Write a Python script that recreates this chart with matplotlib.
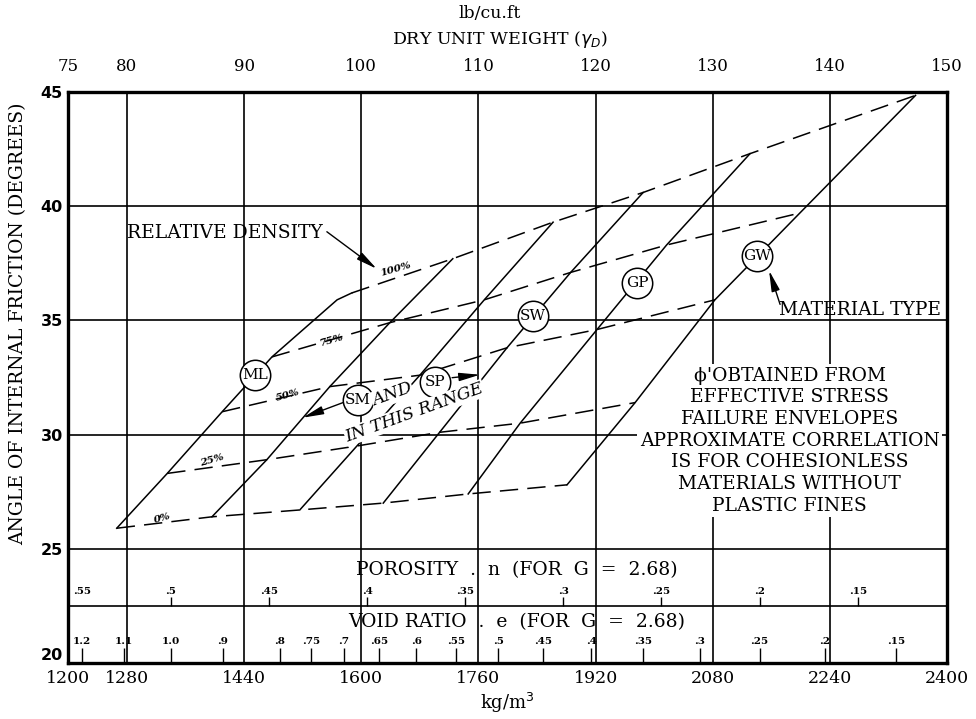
import matplotlib.pyplot as plt

KG_PER_PCF = 16.0

materials = ['ML', 'SM', 'SP', 'SW', 'GP', 'GW']
dr_labels = ['0%', '25%', '50%', '75%', '100%']

# dry density (kg/m3) and friction angle (deg), one value per material, for each relative density
dens_dr0 = [1266, 1396, 1516, 1630, 1746, 1881]
phi_dr0 = [25.9, 26.4, 26.7, 27.0, 27.4, 27.8]
dens_dr25 = [1335, 1471, 1594, 1707, 1817, 1974]
phi_dr25 = [28.3, 28.9, 29.5, 30.1, 30.5, 31.4]
dens_dr50 = [1410, 1557, 1680, 1799, 1922, 2083]
phi_dr50 = [31.0, 32.1, 32.6, 33.8, 34.6, 35.9]
dens_dr75 = [1478, 1639, 1768, 1886, 2017, 2199]
phi_dr75 = [33.4, 34.9, 35.9, 37.1, 38.3, 39.7]
dens_dr100 = [1587, 1725, 1862, 1985, 2131, 2357]
phi_dr100 = [36.2, 37.7, 39.3, 40.6, 42.3, 44.85]

# ML line bends just below its 100% point
ml_bend_dens = 1567
ml_bend_phi = 35.9

# material type circles
circle_dens = [1455, 1595, 1701, 1834, 1977, 2140]
circle_phi = [32.6, 31.5, 32.3, 35.2, 36.65, 37.8]

# relative density labels on the dashed lines
dr_label_dens = [1329, 1396, 1500, 1560, 1647]
dr_label_phi = [26.33, 28.87, 31.73, 34.12, 37.22]

kg_ticks = [1200, 1280, 1440, 1600, 1760, 1920, 2080, 2240, 2400]
kg_grid = [1280, 1440, 1600, 1760, 1920, 2080, 2240]
pcf_ticks = [75, 80, 90, 100, 110, 120, 130, 140, 150]
phi_ticks = [20, 25, 30, 35, 40, 45]
phi_grid = [22.5, 25, 30, 35, 40]

porosity_labels = ['.55', '.5', '.45', '.4', '.35', '.3', '.25', '.2', '.15']
porosity_dens = [1206, 1340, 1474, 1608, 1742, 1876, 2010, 2144, 2278]
void_labels = ['1.2', '1.1', '1.0', '.9', '.8', '.75', '.7', '.65', '.6', '.55',
               '.5', '.45', '.4', '.35', '.3', '.25', '.2', '.15']
void_dens = [1218, 1276, 1340, 1411, 1489, 1531, 1576, 1624, 1675, 1729,
             1787, 1848, 1914, 1985, 2062, 2144, 2233, 2330]

note_lines = ["ϕ'OBTAINED FROM", 'EFFECTIVE STRESS', 'FAILURE ENVELOPES',
              'APPROXIMATE CORRELATION', 'IS FOR COHESIONLESS',
              'MATERIALS WITHOUT', 'PLASTIC FINES']

SERIF = 'DejaVu Serif'

fig = plt.figure(figsize=(9.76, 7.19), dpi=100)
ax = fig.add_axes([0.0701, 0.0779, 0.9002, 0.7942])
ax.set_xlim(1200, 2400)
ax.set_ylim(20, 45)

# grid
ax.vlines(kg_grid, 20, 45, color='black', lw=1.2, zorder=1)
ax.hlines(phi_grid, 1200, 2400, color='black', lw=1.2, zorder=1)
for s in ax.spines.values():
    s.set_linewidth(2.4)

dens = [dens_dr0, dens_dr25, dens_dr50, dens_dr75, dens_dr100]
phi = [phi_dr0, phi_dr25, phi_dr50, phi_dr75, phi_dr100]

# material lines (solid)
for i, m in enumerate(materials):
    xs = [d[i] for d in dens]
    ys = [p[i] for p in phi]
    if m == 'ML':
        xs.insert(4, ml_bend_dens)
        ys.insert(4, ml_bend_phi)
    ax.plot(xs, ys, color='black', lw=1.1, zorder=3)

# relative density lines (dashed)
for k in range(len(dr_labels)):
    ax.plot(dens[k], phi[k], color='black', lw=1.1, dashes=(12, 6), zorder=3)

for x, y, t in zip(dr_label_dens, dr_label_phi, dr_labels):
    ax.text(x, y, t, fontsize=7.5, family=SERIF, style='italic', weight='bold',
            rotation=16, ha='center', va='center', zorder=6)

# circles with material names
ax.scatter(circle_dens, circle_phi, s=480, facecolor='white', edgecolor='black',
           lw=1.1, zorder=5)
for x, y, m in zip(circle_dens, circle_phi, materials):
    ax.text(x, y, m, fontsize=11, family=SERIF, ha='center', va='center', zorder=6)

arrow = dict(arrowstyle='-|>,head_length=0.9,head_width=0.18', color='black',
             lw=1.0, mutation_scale=14, shrinkA=0, shrinkB=0)
ax.annotate('', xy=(1520, 30.74), xytext=(1575, 31.4), arrowprops=arrow, zorder=6)
ax.annotate('', xy=(1762, 32.62), xytext=(1724, 32.49), arrowprops=arrow, zorder=6)
ax.annotate('', xy=(1621, 37.26), xytext=(1553, 38.88), arrowprops=arrow, zorder=6)
ax.annotate('', xy=(2157, 37.18), xytext=(2172, 35.7), arrowprops=arrow, zorder=6)

# "SM AND SP IN THIS RANGE"
for txt, x, y in [('AND', 1642, 31.75), ('IN THIS RANGE', 1673, 30.96)]:
    ax.text(x, y, txt, fontsize=12.5, family=SERIF, style='italic', rotation=20,
            ha='center', va='center', zorder=6,
            bbox=dict(boxstyle='square,pad=0.05', fc='white', ec='none'))

ax.text(1280, 38.84, 'RELATIVE DENSITY', fontsize=13.5, family=SERIF,
        ha='left', va='center', zorder=6)
ax.text(2170, 35.45, 'MATERIAL TYPE', fontsize=13.5, family=SERIF,
        ha='left', va='center', zorder=6)

# note block, white boxes first so no box covers a neighbouring line
for j, line in enumerate(note_lines):
    y = 32.58 - 0.948 * j
    ax.text(2185, y, line, fontsize=13.5, family=SERIF, ha='center', va='center',
            color='white', zorder=5,
            bbox=dict(boxstyle='square,pad=0.12', fc='white', ec='none'))
for j, line in enumerate(note_lines):
    y = 32.58 - 0.948 * j
    ax.text(2185, y, line, fontsize=13.5, family=SERIF, ha='center', va='center',
            zorder=6)

# porosity and void ratio scales
ax.text(1812, 24.07, 'POROSITY  .  n  (FOR  G  =  2.68)', fontsize=13.5,
        family=SERIF, ha='center', va='center', zorder=6)
ax.text(1812, 21.8, 'VOID RATIO  .  e  (FOR  G  =  2.68)', fontsize=13.5,
        family=SERIF, ha='center', va='center', zorder=6)
ax.vlines(porosity_dens[1:], 22.5, 22.89, color='black', lw=1.0, zorder=2)
for i, (x, t) in enumerate(zip(porosity_dens, porosity_labels)):
    ax.text(x, 23.11, t, fontsize=7.5, family=SERIF, weight='bold',
            ha='left' if i == 0 else 'center', va='center', zorder=6)
ax.vlines(void_dens, 20, 20.66, color='black', lw=1.0, zorder=2)
for x, t in zip(void_dens, void_labels):
    ax.text(x, 20.96, t, fontsize=7.5, family=SERIF, weight='bold',
            ha='center', va='center', zorder=6)

# axes ticks
ax.set_xticks(kg_ticks)
ax.set_xticklabels([str(v) for v in kg_ticks], family=SERIF, fontsize=12.5)
ax.set_yticks(phi_ticks)
ax.set_yticklabels([str(v) for v in phi_ticks], family='DejaVu Sans',
                   weight='bold', fontsize=11.5)
ax.get_yticklabels()[0].set_va('bottom')
ax.tick_params(axis='x', length=0, pad=5)
ax.tick_params(axis='y', length=0, pad=4)

secax = ax.secondary_xaxis('top', functions=(lambda k: k / KG_PER_PCF,
                                             lambda p: p * KG_PER_PCF))
secax.set_xticks(pcf_ticks)
secax.set_xticklabels([str(v) for v in pcf_ticks], family=SERIF, fontsize=12)
secax.tick_params(length=0, pad=12)
secax.spines['top'].set_visible(False)

# titles and axis labels
fig.text(490 / 976, 1 - 13 / 719, 'lb/cu.ft', family=SERIF, fontsize=12.5,
         ha='center', va='center')
fig.text(500 / 976, 1 - 40 / 719, r'DRY UNIT WEIGHT ($\gamma_D$)', family=SERIF,
         fontsize=12.5, ha='center', va='center')
fig.text(507 / 976, 1 - 703 / 719, r'kg/m$^3$', family=SERIF, fontsize=13,
         ha='center', va='center')
fig.text(18 / 976, 1 - 324 / 719, 'ANGLE OF INTERNAL FRICTION (DEGREES)',
         family=SERIF, fontsize=13.5, rotation=90, ha='center', va='center')

fig.savefig('out.png', dpi=100)
